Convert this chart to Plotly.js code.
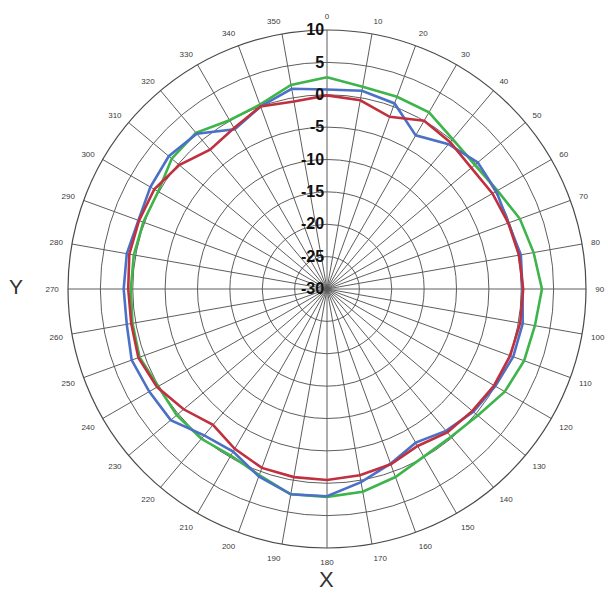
<!DOCTYPE html>
<html>
<head>
<meta charset="utf-8">
<script src="https://cdn.plot.ly/plotly-3.0.1.min.js"></script>
<style>html,body{margin:0;padding:0;background:#fff;}#chart{width:612px;height:593px;}</style>
</head>
<body>
<div id="chart"></div>
<script>
// Angles in degrees (0 at top, clockwise)
const angles = [0,10,20,30,40,50,60,70,80,90,100,110,120,130,140,150,160,170,180,190,200,210,220,230,240,250,260,270,280,290,300,310,320,330,340,350];
// Series values (dB)
const greenVals = [2.7,1.7,1.6,1.5,0.2,-0.2,0.4,1.7,2.4,3.2,2.6,2.4,1.7,0.4,-0.2,-0.1,0.9,1.8,2.1,2.2,0.6,-0.3,0.2,0.3,0.1,0.8,0.5,0.3,0.3,0.2,0.1,1.3,1.5,0.1,0.3,2.0];
const blueVals  = [0.8,1.1,0.5,-2.6,-0.8,0.4,0.2,-0.2,0.4,0.2,0.7,0.6,0.0,-0.5,-1.4,-2.6,-1.3,0.3,2.0,2.2,0.8,-1.0,-0.5,1.5,1.7,2.1,1.4,1.4,1.4,1.0,1.5,1.9,1.3,-1.5,0.0,1.4];
const redVals   = [-0.1,-0.4,-1.7,0.0,-0.4,-0.9,-0.5,-0.2,0.1,0.3,0.3,0.1,-0.2,-0.7,-1.1,-2.0,-1.2,-0.8,-0.5,-0.5,-0.6,-1.5,-2.6,-1.1,0.3,1.0,0.7,0.7,1.0,0.9,0.8,-0.2,-1.9,-1.3,0.0,-0.6];
const radialTicks = [-30,-25,-20,-15,-10,-5,0,5,10];
const angularTicks = [0,10,20,30,40,50,60,70,80,90,100,110,120,130,140,150,160,170,180,190,200,210,220,230,240,250,260,270,280,290,300,310,320,330,340,350];

function closed(arr){ return arr.concat([arr[0]]); }

const series = [
  {name:'green', vals:greenVals, color:'#3db54b'},
  {name:'blue',  vals:blueVals,  color:'#4b70c6'},
  {name:'red',   vals:redVals,   color:'#c1303f'}
];

const data = series.map(s => ({
  type:'scatterpolar',
  mode:'lines',
  r: closed(s.vals),
  theta: closed(angles),
  name: s.name,
  line:{color:s.color, width:2.6},
  showlegend:false,
  hoverinfo:'skip'
}));

const layout = {
  width:612, height:593,
  margin:{l:0,r:0,t:0,b:0},
  paper_bgcolor:'#ffffff',
  showlegend:false,
  font:{family:'Liberation Sans, Arial, sans-serif'},
  polar:{
    domain:{x:[68/612, 586/612], y:[45/593, 563/593]},
    bgcolor:'#ffffff',
    gridshape:'linear',
    angularaxis:{
      rotation:90,
      direction:'clockwise',
      tickmode:'array',
      tickvals:angularTicks,
      ticktext:angularTicks.map(String),
      ticks:'outside',
      ticklen:7,
      tickcolor:'rgba(0,0,0,0)',
      showline:true,
      linecolor:'#4a4a4a',
      linewidth:1.2,
      gridcolor:'#5e5e5e',
      gridwidth:1,
      tickfont:{size:8, color:'#3a3a3a', family:'Liberation Sans, Arial, sans-serif'}
    },
    radialaxis:{
      range:[-30,10],
      angle:90,
      side:'counterclockwise',
      tickmode:'array',
      tickvals:radialTicks,
      ticktext:radialTicks.map(String),
      ticks:'',
      showline:false,
      gridcolor:'#5e5e5e',
      gridwidth:1,
      tickangle:90,
      tickfont:{size:16, color:'#111111', family:'Liberation Sans, Arial, sans-serif', weight:'bold'}
    }
  },
  annotations:[
    {text:'Y', x:16/612, y:1-287/593, xref:'paper', yref:'paper', showarrow:false, xanchor:'center', yanchor:'middle', font:{size:21, color:'#333333', family:'Liberation Sans, Arial, sans-serif'}},
    {text:'X', x:326/612, y:1-579/593, xref:'paper', yref:'paper', showarrow:false, xanchor:'center', yanchor:'middle', font:{size:22, color:'#333333', family:'Liberation Sans, Arial, sans-serif'}}
  ]
};

Plotly.newPlot('chart', data, layout, {displayModeBar:false, staticPlot:true});
</script>
</body>
</html>
